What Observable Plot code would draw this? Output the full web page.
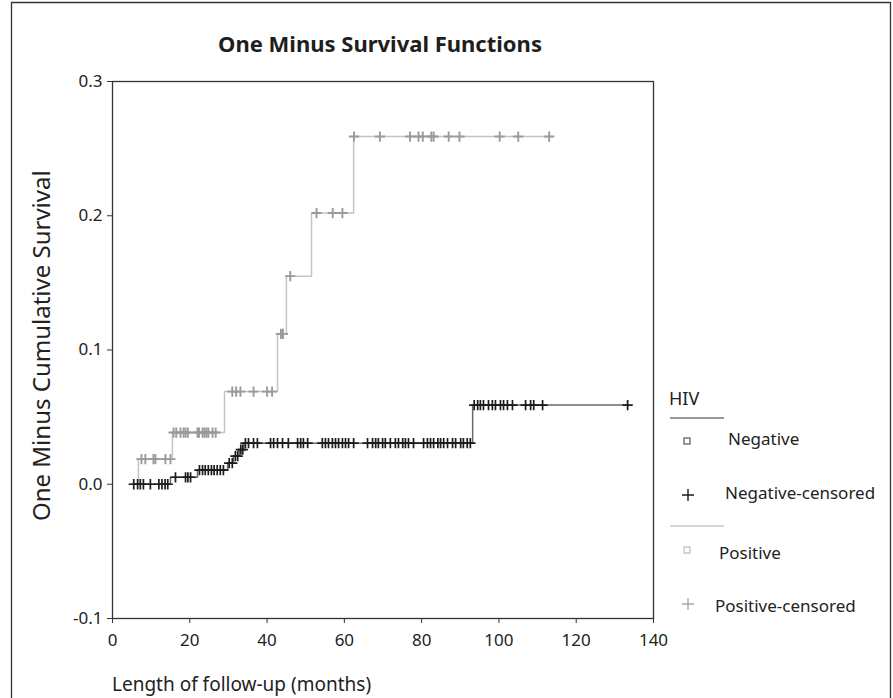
<!DOCTYPE html>
<html>
<head>
<meta charset="utf-8">
<script src="https://cdn.jsdelivr.net/npm/d3@7"></script>
<script src="https://cdn.jsdelivr.net/npm/@observablehq/plot@0.6"></script>
<style>
  html, body { margin: 0; padding: 0; background: #fff; }
  #chart { position: relative; width: 893px; height: 698px; }
</style>
</head>
<body>
<div id="chart"></div>
<script>
// ---- data ----
const xTicks = [0, 20, 40, 60, 80, 100, 120, 140];
const yTicks = [-0.1, 0.0, 0.1, 0.2, 0.3];

// HIV negative: step function (time where level starts, level)
const negStepTimes  = [5, 15, 22, 29.8, 31.3, 32.8, 34.0, 93.2];
const negStepLevels = [0, 0.0052, 0.0105, 0.0157, 0.021, 0.0258, 0.0306, 0.059];
const negEndTime = 133.3;
const negCensTimes = [
  5.5, 6.5, 7.2, 8, 9.8, 12, 12.8, 13.6, 14.3,
  16.3, 18.9, 19.5, 20.2,
  22.5, 23.3, 24, 24.8, 25.6, 26.3, 27.1, 27.9, 28.7,
  30.2, 31.0, 31.8, 32.4, 33.2, 33.7,
  34.4, 35.2, 36.5, 37.5, 40.9, 41.7, 42.7, 44, 45.5, 47.9, 48.7, 49.4, 50.5,
  54.3, 55.1, 55.9, 56.9, 57.7, 58.5, 59.5, 60.3, 61.1, 62.4, 66, 67.3, 68.1,
  68.8, 69.9, 70.6, 71.9, 73.2, 74, 75.1, 75.8, 76.6, 77.9, 80.5, 81.5, 82.3,
  83.1, 84.2, 84.9, 85.7, 86.7, 88, 88.8, 90.1, 90.8, 91.8, 92.6,
  93.6, 94.5, 95.2, 96, 97.3, 98.3, 99.1, 100.4, 101.2, 102.2, 103.5,
  106.9, 108.2, 109, 111.3, 133.3
];

// HIV positive
const posStepTimes  = [6.7, 6.7, 15.5, 29, 42.7, 45, 51.5, 62.4];
const posStepLevels = [0, 0.0187, 0.0385, 0.069, 0.112, 0.155, 0.202, 0.259];
const posEndTime = 114;
const posCensTimes = [
  7.5, 8.5, 10.6, 11.1, 13.7, 15,
  15.8, 16.5, 17.6, 18.4, 18.9, 19.5, 22, 22.4, 23.3, 23.8, 24.3, 24.8, 25.9, 26.7,
  31, 32, 33.1, 36.5, 40, 41.3,
  43.6, 44.1,
  46,
  52.8, 57, 59.5,
  62.5, 69.2, 77, 79.2, 80.3, 82.5, 83.1, 87, 89.8, 100.2, 105, 113
];

const legendTitle = "HIV";
const legendLabels = ["Negative", "Negative-censored", "Positive", "Positive-censored"];

// ---- build tables ----
function stepRows(times, levels, end) {
  const rows = times.map((t, i) => ({t, v: levels[i]}));
  rows.push({t: end, v: levels[levels.length - 1]});
  return rows;
}
function levelAt(times, levels, t) {
  let v = levels[0];
  for (let i = 0; i < times.length; i++) if (times[i] <= t) v = levels[i];
  return v;
}
const negLine = stepRows(negStepTimes, negStepLevels, negEndTime);
const posLine = stepRows(posStepTimes, posStepLevels, posEndTime);
const negCens = negCensTimes.map(t => ({t, v: levelAt(negStepTimes, negStepLevels, t)}));
const posCens = posCensTimes.map(t => ({t, v: levelAt(posStepTimes, posStepLevels, t)}));

const FONT = "'Noto Sans', 'DejaVu Sans', sans-serif";

const chart = Plot.plot({
  width: 893,
  height: 698,
  marginLeft: 112,
  marginRight: 240,
  marginTop: 81,
  marginBottom: 80,
  style: {fontFamily: FONT, fontSize: "17px", color: "#222", background: "#fff"},
  x: {domain: [0, 140]},
  y: {domain: [-0.1, 0.3]},
  marks: [
    Plot.frame({stroke: "#333", strokeWidth: 1.3}),
    Plot.axisX({ticks: xTicks, tickSize: 5, tickPadding: 10, fontSize: 17, label: null, stroke: "#333"}),
    Plot.axisY({ticks: yTicks, tickSize: 5, tickPadding: 5, fontSize: 17, label: null, stroke: "#333",
                tickFormat: d => d.toFixed(1)}),
    Plot.line(posLine, {x: "t", y: "v", curve: "step-after", stroke: "#c4c4c4", strokeWidth: 1.5}),
    Plot.line(negLine, {x: "t", y: "v", curve: "step-after", stroke: "#6a6a6a", strokeWidth: 1.5}),
    Plot.dot(posCens, {x: "t", y: "v", symbol: "plus", r: 3.4, stroke: "#9a9a9a", strokeWidth: 1.9}),
    Plot.dot(negCens, {x: "t", y: "v", symbol: "plus", r: 3.4, stroke: "#1c1c1c", strokeWidth: 1.7})
  ]
});

const svg = d3.select(chart);
// outer border (left, top, right)
svg.append("path").attr("d", "M11.5,700V2.5H890.5V700")
  .attr("fill", "none").attr("stroke", "#333").attr("stroke-width", 1.3);
// title
svg.append("text").attr("x", 380).attr("y", 52).attr("text-anchor", "middle")
  .attr("font-family", FONT).attr("font-weight", "bold").attr("font-size", 22).attr("fill", "#1e1e1e")
  .text("One Minus Survival Functions");
// y label
svg.append("text").attr("transform", "translate(50,521) rotate(-90)").attr("text-anchor", "start")
  .attr("font-family", FONT).attr("font-size", 24).attr("fill", "#222")
  .text("One Minus Cumulative Survival");
// x label
svg.append("text").attr("x", 112).attr("y", 691).attr("text-anchor", "start")
  .attr("font-family", FONT).attr("font-size", 19).attr("fill", "#222")
  .text("Length of follow-up (months)");

// legend
const lg = svg.append("g").attr("font-family", FONT).attr("fill", "#222").attr("text-anchor", "start");
lg.append("text").attr("x", 669).attr("y", 405).attr("font-size", 18).text(legendTitle);
lg.append("line").attr("x1", 670).attr("x2", 724).attr("y1", 418).attr("y2", 418)
  .attr("stroke", "#777").attr("stroke-width", 1.5);
lg.append("rect").attr("x", 684).attr("y", 438).attr("width", 6).attr("height", 6)
  .attr("fill", "none").attr("stroke", "#555").attr("stroke-width", 1.2);
lg.append("text").attr("x", 728).attr("y", 445).attr("font-size", 17).text(legendLabels[0]);
lg.append("path").attr("d", "M682,495H694M688,489V501").attr("stroke", "#1c1c1c").attr("stroke-width", 1.4);
lg.append("text").attr("x", 725).attr("y", 499).attr("font-size", 17).text(legendLabels[1]);
lg.append("line").attr("x1", 670).attr("x2", 724).attr("y1", 526).attr("y2", 526)
  .attr("stroke", "#c8c8c8").attr("stroke-width", 1.5);
lg.append("rect").attr("x", 684).attr("y", 547).attr("width", 6).attr("height", 6)
  .attr("fill", "none").attr("stroke", "#bbb").attr("stroke-width", 1.2);
lg.append("text").attr("x", 719).attr("y", 559).attr("font-size", 17).text(legendLabels[2]);
lg.append("path").attr("d", "M682,604H694M688,598V610").attr("stroke", "#aaa").attr("stroke-width", 1.4);
lg.append("text").attr("x", 715).attr("y", 612).attr("font-size", 17).text(legendLabels[3]);

document.getElementById("chart").appendChild(chart);
</script>
</body>
</html>
